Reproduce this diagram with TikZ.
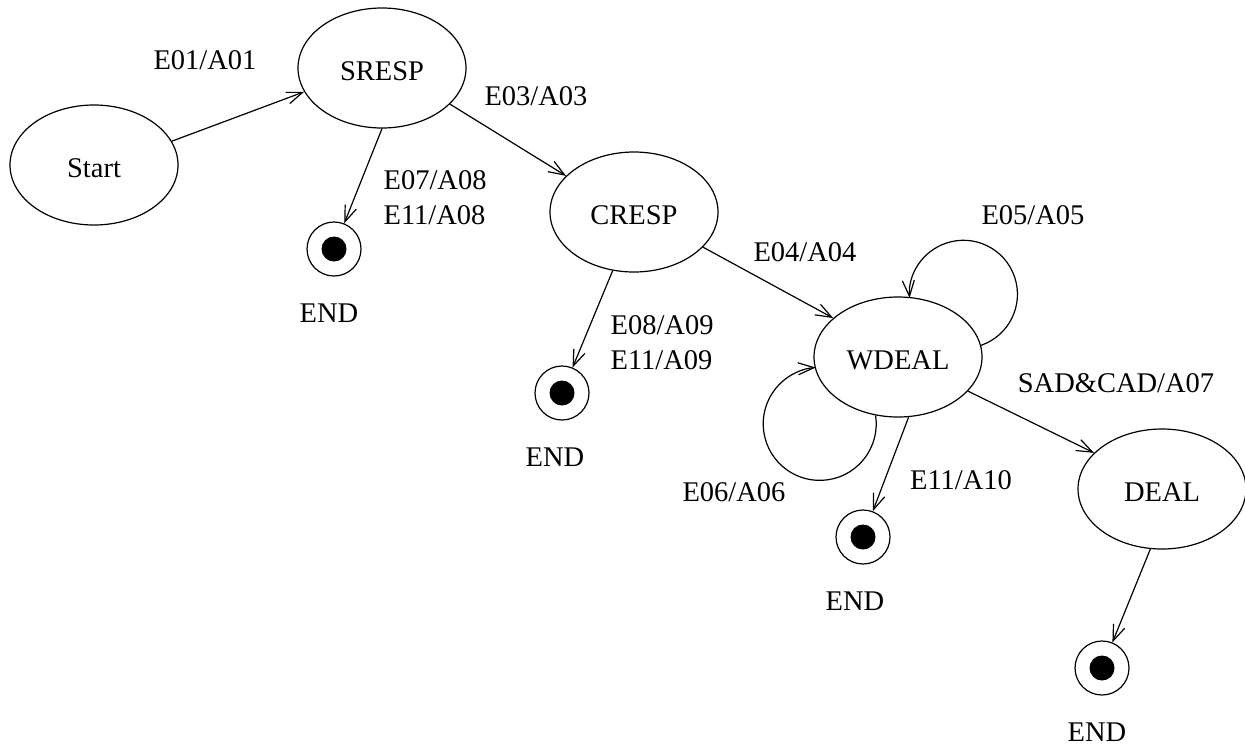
\documentclass[tikz,border=0pt]{standalone}
\usepackage{fontspec}
\setmainfont{Liberation Serif}
\usetikzlibrary{arrows.meta,positioning,shapes.geometric}

\tikzset{
  state/.style={draw, ellipse, minimum width=84pt, minimum height=60pt, inner sep=0pt,
    text height=12.4pt, text depth=0pt},
  final/.style={draw, circle, minimum size=27pt, inner sep=0pt,
    path picture={\fill (path picture bounding box.center) circle (6.25pt);}},
  trans/.style={-{Straight Barb[length=8pt,width=6pt]}},
  lbl/.style={inner sep=0pt},
}

\begin{document}
\begin{tikzpicture}[x=0.5pt, y=-0.5pt, line width=0.6pt, font=\fontsize{14.25}{17.5}\selectfont]
\useasboundingbox (0,0) rectangle (1245,745);

% states
\node[state] (start) at (94,165) {Start};
\node[state] (sresp) at (382,68) {SRESP};
\node[state] (cresp) at (634,212) {CRESP};
\node[state] (wdeal) at (898,357) {WDEAL};
\node[state] (deal) at (1162,489) {DEAL};

% final states
\node[final] (end1) at (334,249) {};
\node[final] (end2) at (562,393) {};
\node[final] (end3) at (863,537) {};
\node[final] (end4) at (1102,668) {};
\node[lbl, below=13.4pt of end1, xshift=-2.5pt] (end1txt) {END};
\node[lbl, below=13.4pt of end2, xshift=-3.5pt] (end2txt) {END};
\node[lbl, below=13.4pt of end3, xshift=-4pt] (end3txt) {END};
\node[lbl, below=13.4pt of end4, xshift=-2.5pt] (end4txt) {END};

% transitions
\draw[trans] (start.17) -- (sresp.197);
\draw[trans] (sresp.south) -- (end1);
\draw[trans] (sresp.-28) -- (cresp.152);
\draw[trans] (cresp.-110) -- (end2);
\draw[trans] (cresp.-27) -- (wdeal.149);
\draw[trans] (wdeal.-80) -- (end3);
\draw[trans] (wdeal.-26) -- (deal.152);
\draw[trans] (deal.-101) -- (end4);
\draw[trans] (wdeal.8) arc[start angle=-71, end angle=184, radius=27pt];
\draw[trans] (wdeal.-111) arc[start angle=8.6, end angle=-266, radius=28.25pt];

% event/action labels
\node[lbl] (t01) at (205,60) {E01/A01};
\node[lbl] (t03) at (536,96) {E03/A03};
\node[lbl, anchor=west, align=left] (t07) at (383,197.5) {E07/A08\\E11/A08};
\node[lbl, anchor=west, align=left] (t08) at (610,342.5) {E08/A09\\E11/A09};
\node[lbl] (t04) at (805,252) {E04/A04};
\node[lbl] (t05) at (1033,215) {E05/A05};
\node[lbl] (t07b) at (1116,383) {SAD\&CAD/A07};
\node[lbl] (t06) at (734,492) {E06/A06};
\node[lbl] (t11) at (961,480) {E11/A10};
\end{tikzpicture}
\end{document}
